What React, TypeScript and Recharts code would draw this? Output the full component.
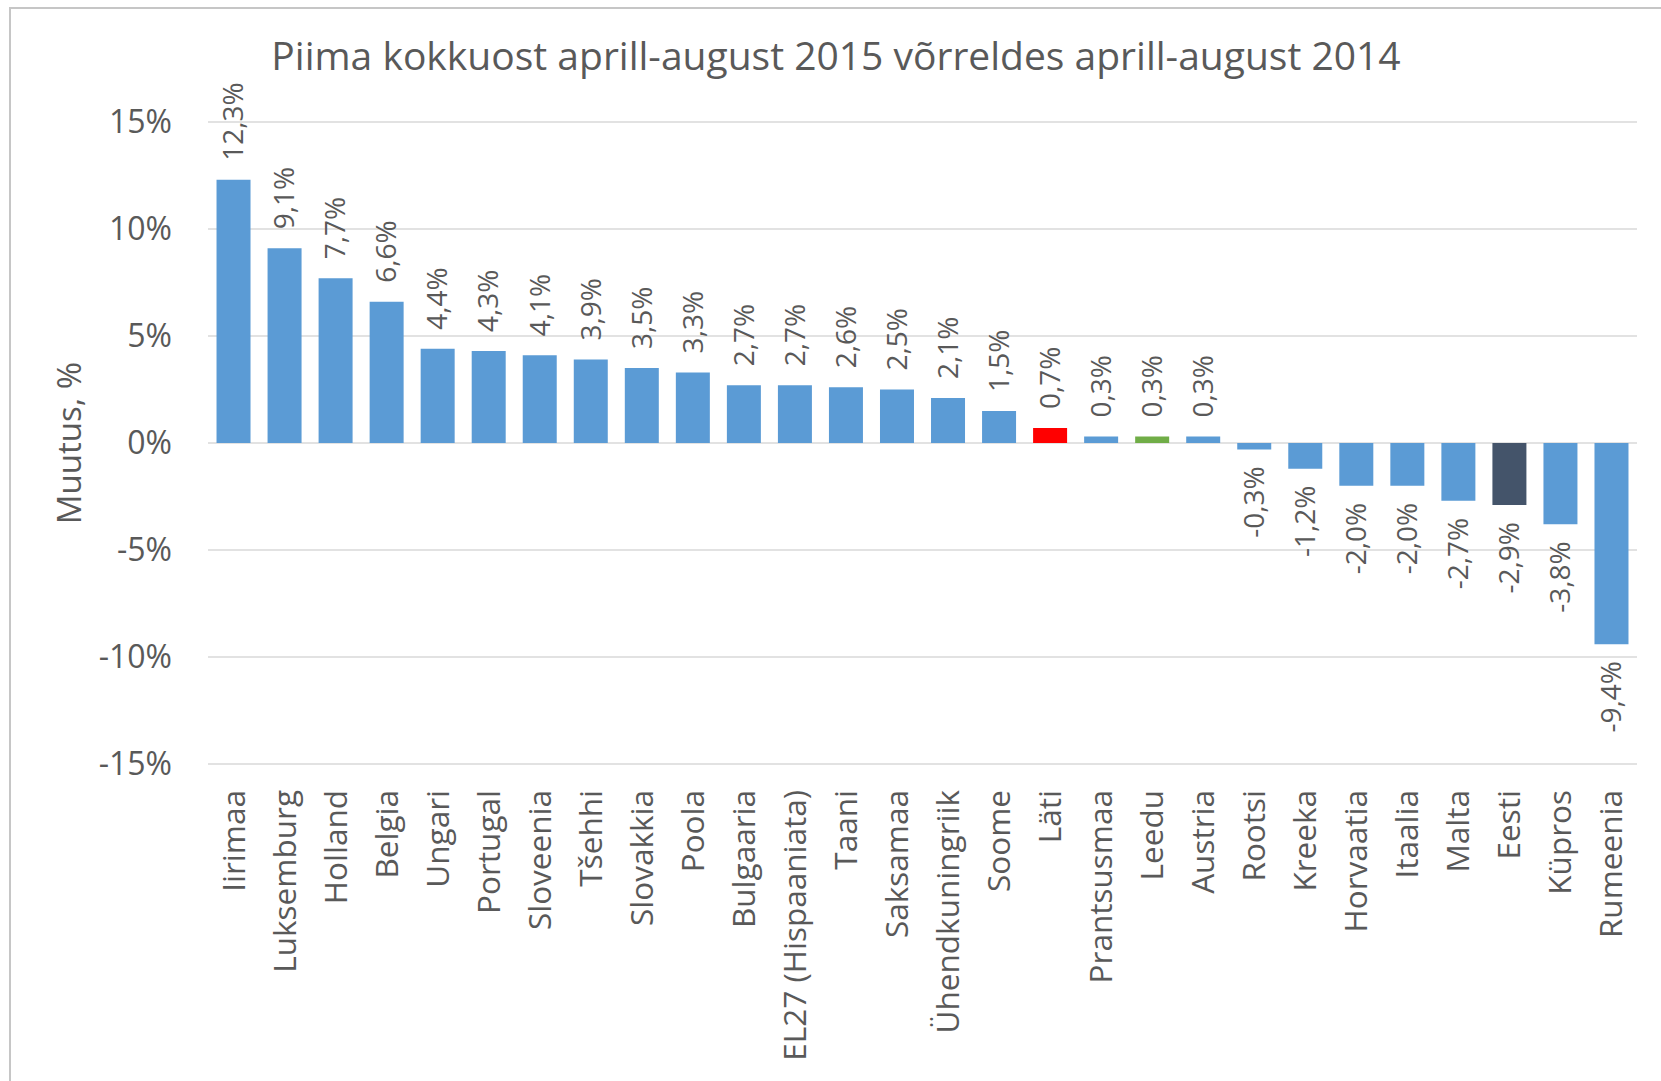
import { Bar, BarChart, CartesianGrid, Cell, LabelList, XAxis, YAxis } from "recharts";

const countries = [
  "Iirimaa",
  "Luksemburg",
  "Holland",
  "Belgia",
  "Ungari",
  "Portugal",
  "Sloveenia",
  "Tšehhi",
  "Slovakkia",
  "Poola",
  "Bulgaaria",
  "EL27 (Hispaaniata)",
  "Taani",
  "Saksamaa",
  "Ühendkuningriik",
  "Soome",
  "Läti",
  "Prantsusmaa",
  "Leedu",
  "Austria",
  "Rootsi",
  "Kreeka",
  "Horvaatia",
  "Itaalia",
  "Malta",
  "Eesti",
  "Küpros",
  "Rumeenia",
];

const change = [
  12.3, 9.1, 7.7, 6.6, 4.4, 4.3, 4.1, 3.9, 3.5, 3.3, 2.7, 2.7, 2.6, 2.5, 2.1,
  1.5, 0.7, 0.3, 0.3, 0.3, -0.3, -1.2, -2.0, -2.0, -2.7, -2.9, -3.8, -9.4,
];

const yTicks = [-15, -10, -5, 0, 5, 10, 15];

const TITLE = "Piima kokkuost aprill-august 2015 võrreldes aprill-august 2014";
const Y_TITLE = "Muutus, %";

const BLUE = "#5B9BD5";
const HIGHLIGHT: Record<string, string> = {
  Läti: "#FF0000",
  Leedu: "#70AD47",
  Eesti: "#44546A",
};
const TEXT = "#595959";
const GRID = "#D9D9D9";
const FONT = "'Open Sans', sans-serif";

const data = countries.map((name, i) => ({ name, value: change[i] }));

const fmt = (v: number) => `${v.toFixed(1).replace(".", ",")}%`;

function BarValue(props: any) {
  const { x, y, width, height, value } = props;
  const cx = x + width / 2;
  const top = Math.min(y, y + height);
  const bottom = Math.max(y, y + height);
  const pos = value >= 0;
  const ay = pos ? top - 19 : bottom + 17;
  return (
    <text
      x={cx}
      y={ay}
      dy="0.35em"
      transform={`rotate(-90, ${cx}, ${ay})`}
      textAnchor={pos ? "start" : "end"}
      fill={TEXT}
      fontSize={28}
      fontFamily={FONT}
    >
      {fmt(value)}
    </text>
  );
}

function CountryTick(props: any) {
  const { x, y, payload } = props;
  const ty = y + 26;
  return (
    <text
      x={x}
      y={ty}
      dy="0.35em"
      transform={`rotate(-90, ${x}, ${ty})`}
      textAnchor="end"
      fill={TEXT}
      fontSize={31.5}
      fontFamily={FONT}
    >
      {payload.value}
    </text>
  );
}

function YTitle(props: any) {
  const { viewBox } = props;
  const x = 69;
  const y = viewBox.y + viewBox.height / 2;
  return (
    <text
      x={x}
      y={y}
      dy="0.35em"
      transform={`rotate(-90, ${x}, ${y})`}
      textAnchor="middle"
      fill={TEXT}
      fontSize={33}
      fontFamily={FONT}
    >
      {Y_TITLE}
    </text>
  );
}

export default function App() {
  return (
    <div
      style={{
        position: "absolute",
        left: 0,
        top: 0,
        width: 1661,
        height: 1081,
        overflow: "hidden",
        background: "#fff",
      }}
    >
      <div
        style={{
          position: "absolute",
          left: 9,
          top: 7,
          width: 1700,
          height: 1100,
          borderLeft: "2px solid #C6C6C6",
          borderTop: "2px solid #C6C6C6",
        }}
      />
      <BarChart
        width={1661}
        height={1081}
        data={data}
        margin={{ top: 122, right: 24, left: 0, bottom: 0 }}
        barCategoryGap="16.7%"
        style={{ position: "absolute", left: 0, top: 0 }}
      >
        <CartesianGrid vertical={false} stroke={GRID} strokeWidth={1.5} />
        <XAxis
          dataKey="name"
          height={317}
          interval={0}
          axisLine={false}
          tickLine={false}
          tickSize={0}
          tickMargin={0}
          tick={<CountryTick />}
        />
        <YAxis
          width={208}
          domain={[-15, 15]}
          ticks={yTicks}
          interval={0}
          axisLine={false}
          tickLine={false}
          tickSize={0}
          tickMargin={36}
          tickFormatter={(v: number) => `${v}%`}
          tick={{ fill: TEXT, fontSize: 32, fontFamily: FONT }}
          label={<YTitle />}
        />
        <Bar dataKey="value" isAnimationActive={false}>
          {data.map((d) => (
            <Cell key={d.name} fill={HIGHLIGHT[d.name] ?? BLUE} />
          ))}
          <LabelList dataKey="value" content={<BarValue />} />
        </Bar>
      </BarChart>
      <svg
        width={1661}
        height={120}
        style={{ position: "absolute", left: 0, top: 0, pointerEvents: "none" }}
      >
        <text
          x={836}
          y={70}
          textAnchor="middle"
          fill={TEXT}
          fontSize={39}
          fontFamily={FONT}
        >
          {TITLE}
        </text>
      </svg>
    </div>
  );
}
